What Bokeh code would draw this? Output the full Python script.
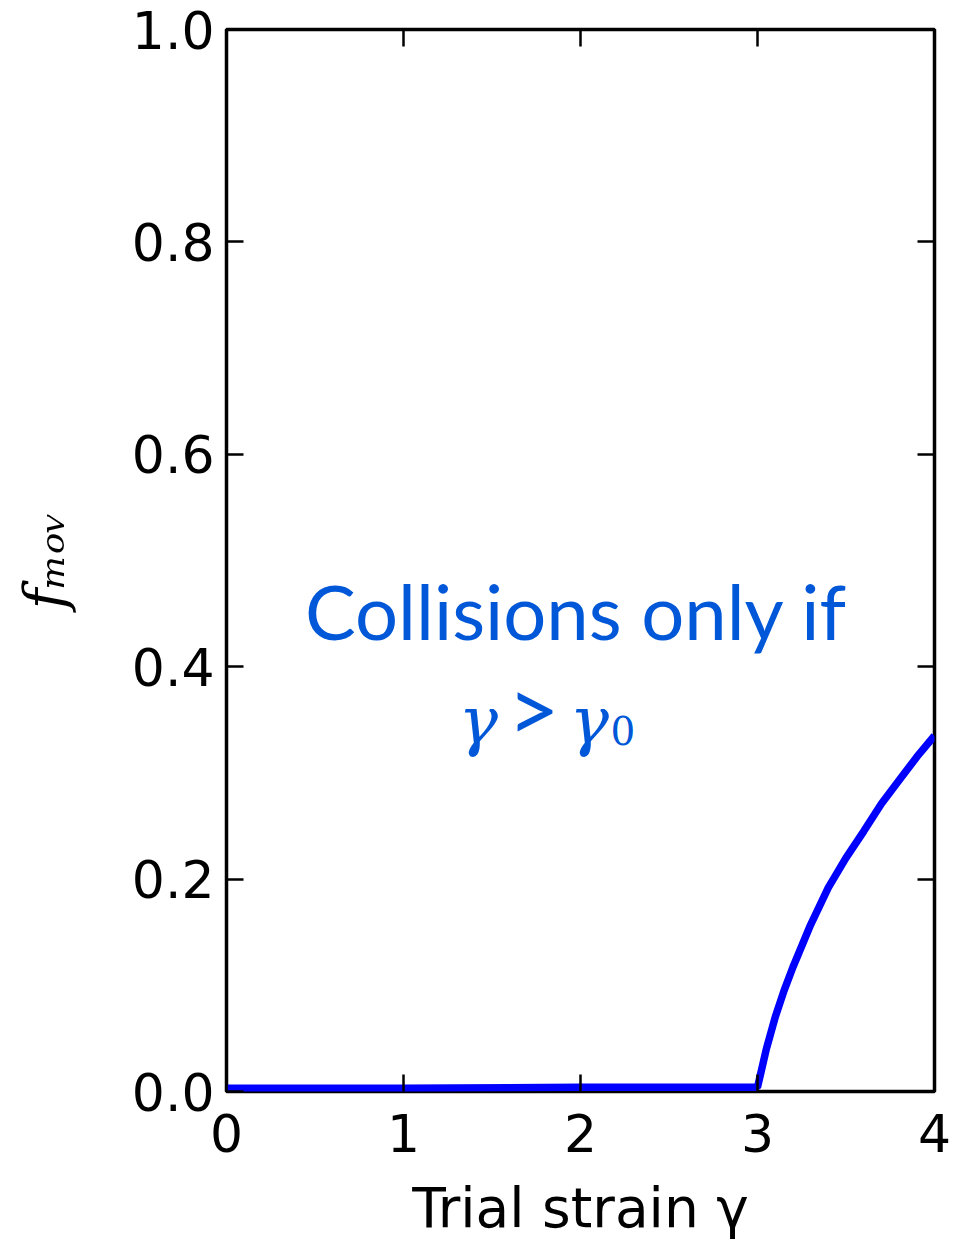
import math
from bokeh.plotting import figure
from bokeh.models import Range1d, FixedTicker, LinearAxis, Label
from bokeh.embed import file_html
from bokeh.resources import INLINE

# data
gamma = [0.0, 1.0, 2.0, 3.0, 3.05, 3.1, 3.15, 3.2, 3.3, 3.4, 3.5, 3.6, 3.7, 3.8, 3.9, 4.0]
f_mov = [0.003, 0.003, 0.004, 0.004, 0.04, 0.07, 0.095, 0.117, 0.157, 0.192, 0.22, 0.245, 0.271, 0.293, 0.315, 0.335]

x_ticks = [0, 1, 2, 3, 4]
y_ticks = [0.0, 0.2, 0.4, 0.6, 0.8, 1.0]
y_tick_labels = ["0.0", "0.2", "0.4", "0.6", "0.8", "1.0"]
x_label = "Trial strain γ"
y_label = "fₘₒᵥ"

BLUE_TXT = "#0057d8"

p = figure(width=967, height=1242, output_backend="svg", toolbar_location=None,
           x_range=Range1d(0, 4), y_range=Range1d(0, 1))
p.min_border_left = 226
p.min_border_right = 33
p.min_border_top = 29
p.min_border_bottom = 151
p.grid.visible = False
p.outline_line_color = "black"
p.outline_line_width = 3.5
p.background_fill_color = "white"
p.border_fill_color = "white"

tick_font = "DejaVu Sans"
fs = "52px"

for ax in p.xaxis:
    ax.ticker = FixedTicker(ticks=x_ticks)
    ax.major_label_overrides = {t: str(t) for t in x_ticks}
    ax.axis_label = x_label
    ax.axis_label_text_font = "DejaVu Sans"
    ax.axis_label_text_font_style = "normal"
    ax.axis_label_text_font_size = "55px"
    ax.axis_label_text_color = "black"
    ax.axis_label_standoff = 21
for ax in p.yaxis:
    ax.ticker = FixedTicker(ticks=y_ticks)
    ax.major_label_overrides = {t: l for t, l in zip(y_ticks, y_tick_labels)}
    ax.axis_label = y_label
    ax.axis_label_text_font = "DejaVu Serif"
    ax.axis_label_text_font_style = "italic"
    ax.axis_label_text_font_size = "56px"
    ax.axis_label_text_color = "black"
    ax.axis_label_standoff = 52

for ax in list(p.xaxis) + list(p.yaxis):
    ax.axis_line_color = None
    ax.major_tick_in = 17
    ax.major_tick_out = 0
    ax.major_tick_line_width = 2.5
    ax.major_tick_line_color = "black"
    ax.minor_tick_line_color = None
    ax.major_label_text_font = tick_font
    ax.major_label_text_font_size = fs
    ax.major_label_text_color = "black"
p.xaxis.major_label_standoff = 22
p.yaxis.major_label_standoff = 12

top = LinearAxis(ticker=FixedTicker(ticks=x_ticks),
                 major_label_overrides={t: "" for t in x_ticks})
right = LinearAxis(ticker=FixedTicker(ticks=y_ticks),
                   major_label_overrides={t: "" for t in y_ticks})
for ax in (top, right):
    ax.axis_line_color = None
    ax.major_tick_in = 17
    ax.major_tick_out = 0
    ax.major_tick_line_width = 2.5
    ax.minor_tick_line_color = None
    ax.major_label_text_font_size = "1px"
    ax.major_label_standoff = 0
p.add_layout(top, "above")
p.add_layout(right, "right")

p.line(gamma, f_mov, line_color="#0000ff", line_width=7.5)

# helpers: convert picture pixel position to data coordinates
def dx(px):
    return (px - 226) / 177.0

def dy(py):
    return (1091 - py) / 1062.0

# annotation
p.add_layout(Label(x=dx(576), y=dy(610), text="Collisions only if", text_font="Lato",
                   text_font_size="76px", text_color=BLUE_TXT, text_align="center",
                   text_baseline="alphabetic"))
p.add_layout(Label(x=dx(458), y=dy(720), text="γ", text_font="DejaVu Serif",
                   text_font_style="italic", text_font_size="66px", text_color=BLUE_TXT,
                   text_baseline="alphabetic"))
p.add_layout(Label(x=dx(507), y=dy(706), text=">", text_font="Lato",
                   text_font_size="90px", text_color=BLUE_TXT,
                   text_baseline="alphabetic"))
p.add_layout(Label(x=dx(569), y=dy(720), text="γ", text_font="DejaVu Serif",
                   text_font_style="italic", text_font_size="66px", text_color=BLUE_TXT,
                   text_baseline="alphabetic"))
p.add_layout(Label(x=dx(610), y=dy(730), text="0", text_font="DejaVu Serif",
                   text_font_size="39px", text_color=BLUE_TXT,
                   text_baseline="alphabetic"))

open("out.html", "w").write(file_html(p, INLINE))
